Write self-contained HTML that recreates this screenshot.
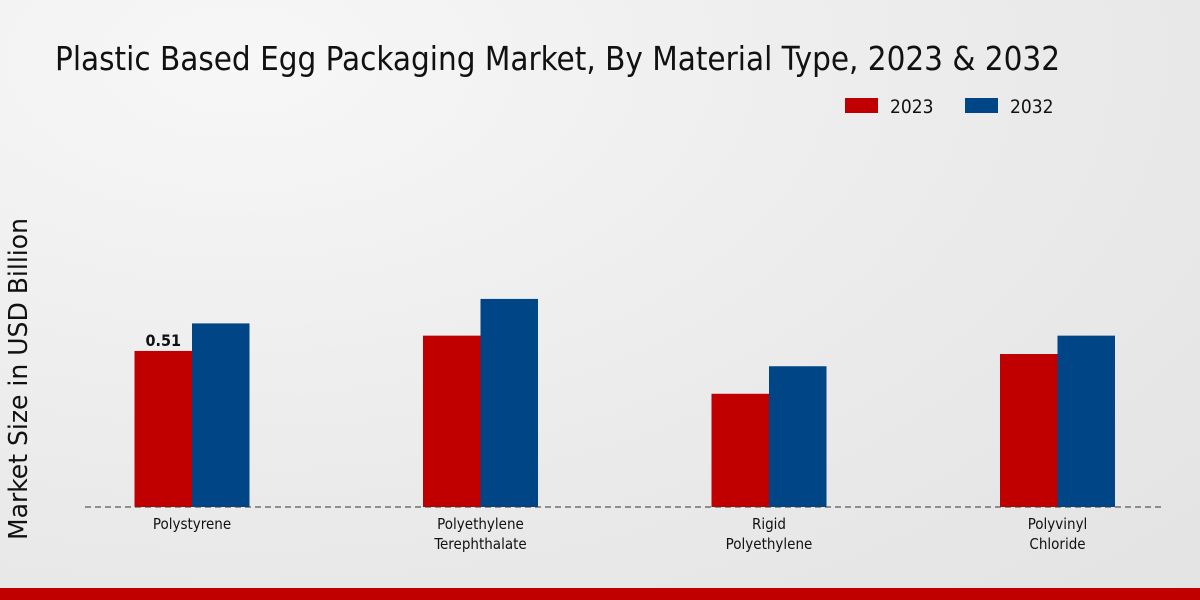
<!DOCTYPE html>
<html><head><meta charset="utf-8"><style>
body{margin:0;width:1200px;height:600px;overflow:hidden;background:radial-gradient(ellipse at 20% 10%,#f7f7f7 0%,#ebebeb 55%,#e3e3e3 100%);font-family:"DejaVu Sans Condensed","DejaVu Sans","Liberation Sans",sans-serif;}
svg{position:absolute;left:0;top:0}
</style></head><body>
<svg width="1200" height="600">
<text x="55" y="70" font-size="33" textLength="1005" lengthAdjust="spacingAndGlyphs" fill="#111" font-family="DejaVu Sans Condensed, DejaVu Sans, sans-serif">Plastic Based Egg Packaging Market, By Material Type, 2023 &amp; 2032</text>
<g>
<rect x="845" y="98" width="33" height="15" fill="#c00000"/>
<text x="890" y="113" font-size="19" fill="#111">2023</text>
<rect x="965" y="98" width="33" height="15" fill="#004687"/>
<text x="1010" y="113" font-size="19" fill="#111">2032</text>
</g>
<text transform="translate(27,379) rotate(-90)" text-anchor="middle" font-size="26" textLength="322" lengthAdjust="spacingAndGlyphs" fill="#111">Market Size in USD Billion</text>
<g id="bars"></g>
<line x1="85" y1="507" x2="1165" y2="507" stroke="#333" stroke-dasharray="6,4" stroke-width="1"/>
<g id="labels"></g>
<rect x="0" y="588" width="1200" height="12" fill="#c00000"/>
</svg>
<script>
const categories=[["Polystyrene"],["Polyethylene","Terephthalate"],["Rigid","Polyethylene"],["Polyvinyl","Chloride"]];
const values2023=[0.51,0.56,0.37,0.50];
const values2032=[0.60,0.68,0.46,0.56];
const NS="http://www.w3.org/2000/svg";
const base=507, scale=306, x0=192, step=288.5, bw=57.5;
const yPx=v=>base-v*scale;
const bars=document.getElementById('bars'), labels=document.getElementById('labels');
categories.forEach((c,i)=>{
  const cx=x0+i*step;
  [[values2023,"#c00000",-bw,"2023"],[values2032,"#004687",0,"2032"]].forEach(([arr,col,off,yr])=>{
    const r=document.createElementNS(NS,'rect');
    r.setAttribute('x',cx+off);r.setAttribute('y',yPx(arr[i]));
    r.setAttribute('width',bw);r.setAttribute('height',base-yPx(arr[i]));
    r.setAttribute('fill',col);
    
    
    bars.appendChild(r);
  });
  c.forEach((line,j)=>{
    const t=document.createElementNS(NS,'text');
    t.setAttribute('x',cx);t.setAttribute('y',529+j*20);
    t.setAttribute('text-anchor','middle');t.setAttribute('font-size','15');t.setAttribute('fill','#111');
    t.textContent=line;
    
    
    labels.appendChild(t);
  });
});
const v=document.createElementNS(NS,'text');
v.setAttribute('x',x0-bw/2);v.setAttribute('y',yPx(values2023[0])-5);
v.setAttribute('text-anchor','middle');v.setAttribute('font-size','16');v.setAttribute('font-weight','bold');v.setAttribute('fill','#111');
v.textContent=values2023[0].toFixed(2);


labels.appendChild(v);
</script>
</body></html>
